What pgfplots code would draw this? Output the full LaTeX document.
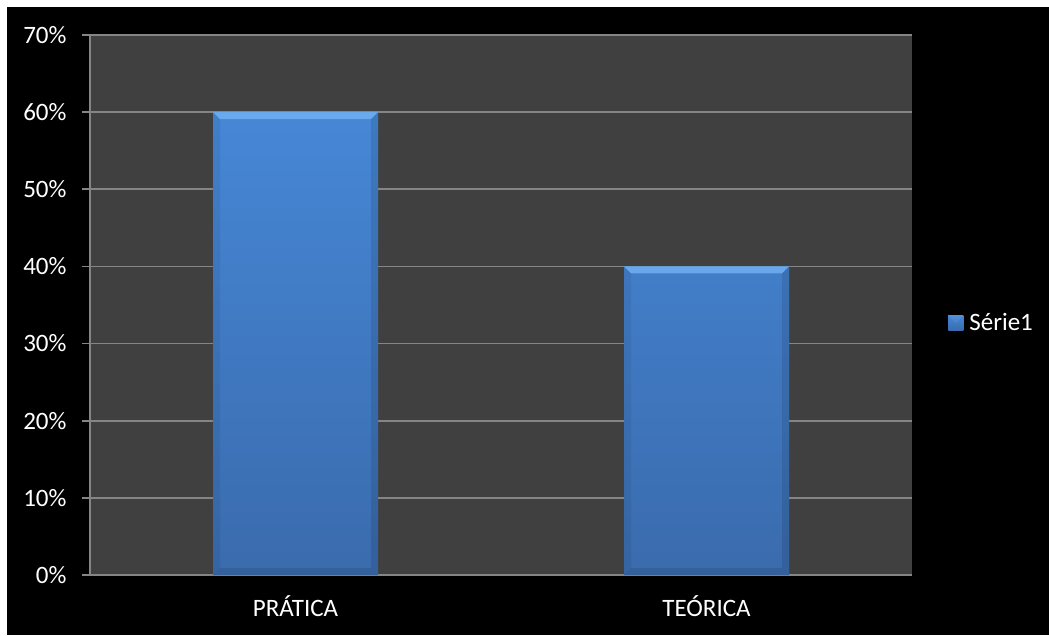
\documentclass[border=0pt]{standalone}
\usepackage{fontspec}
\setmainfont{Carlito}
\usepackage{pgfplots}
\pgfplotsset{compat=1.18}
\definecolor{plotbg}{HTML}{404040}
\definecolor{gridc}{HTML}{858585}
\definecolor{bartop}{HTML}{4687D6}
\definecolor{barbot}{HTML}{3A6BAD}
\definecolor{barhi}{HTML}{74B6F6}
\begin{document}
\begin{tikzpicture}
\fill[white] (0,0) rectangle (1049pt,635pt);
\fill[black] (7pt,0) rectangle (1049pt,628pt);
\begin{axis}[
  at={(90pt,60pt)}, anchor=south west,
  scale only axis, width=822pt, height=540pt,
  xmin=-0.5, xmax=1.5, ymin=0, ymax=70,
  axis background/.style={fill=plotbg},
  axis lines*=left,
  axis line style={gridc, line width=1.6pt, -},
  tick align=outside,
  tick style={gridc, line width=1.6pt},
  ytick={0,10,...,70},
  yticklabels={0\%,10\%,20\%,30\%,40\%,50\%,60\%,70\%},
  major tick length=8pt,
  xtick={0,1}, xticklabels={PRÁTICA,TEÓRICA},
  x tick style={draw=none},
  minor xtick={-0.5,0.5,1.5},
  minor x tick style={gridc, line width=1.6pt},
  minor tick length=8pt,
  ymajorgrids, grid style={gridc, line width=1.6pt},
  ticklabel style={font=\fontsize{25}{30}\selectfont, text=white},
  yticklabel style={xshift=-12pt},
  xticklabel style={yshift=-9pt},
  legend style={at={(1.044,0.467)}, anchor=west, draw=none, fill=none,
    font=\fontsize{25}{30}\selectfont, text=white, inner sep=0pt,
    legend cell align=left},
  legend image code/.code={\fill[bartop] (0pt,-7.5pt) rectangle (15pt,7.5pt);
    \fill[barhi,opacity=0.6] (0pt,7.5pt) -- (15pt,7.5pt) -- (7.5pt,0pt) -- cycle;
    \path (0pt,0pt) -- (19pt,0pt);},
]
\addplot[ybar, bar width=165pt, draw=none, top color=bartop, bottom color=barbot]
  coordinates {(0,60) (1,40)};
\addlegendentry{Série1}
% bevels
\addplot[forget plot, fill=barhi, fill opacity=0.75, draw=none] coordinates {(-0.2007,60) (0.2007,60) (0.1837,59.1) (-0.1837,59.1)} -- cycle;
\addplot[forget plot, fill=black, fill opacity=0.06, draw=none] coordinates {(-0.2007,0) (-0.2007,60) (-0.1837,59.1) (-0.1837,0.9)} -- cycle;
\addplot[forget plot, fill=black, fill opacity=0.1, draw=none] coordinates {(0.2007,0) (0.2007,60) (0.1837,59.1) (0.1837,0.9)} -- cycle;
\addplot[forget plot, fill=black, fill opacity=0.1, draw=none] coordinates {(-0.2007,0) (0.2007,0) (0.1837,0.9) (-0.1837,0.9)} -- cycle;
\addplot[forget plot, fill=barhi, fill opacity=0.75, draw=none] coordinates {(0.7993,40) (1.2007,40) (1.1837,39.1) (0.8163,39.1)} -- cycle;
\addplot[forget plot, fill=black, fill opacity=0.06, draw=none] coordinates {(0.7993,0) (0.7993,40) (0.8163,39.1) (0.8163,0.9)} -- cycle;
\addplot[forget plot, fill=black, fill opacity=0.1, draw=none] coordinates {(1.2007,0) (1.2007,40) (1.1837,39.1) (1.1837,0.9)} -- cycle;
\addplot[forget plot, fill=black, fill opacity=0.1, draw=none] coordinates {(0.7993,0) (1.2007,0) (1.1837,0.9) (0.8163,0.9)} -- cycle;
\end{axis}
\pgfresetboundingbox
\path (0,0) rectangle (1049pt,635pt);
\end{tikzpicture}
\end{document}
